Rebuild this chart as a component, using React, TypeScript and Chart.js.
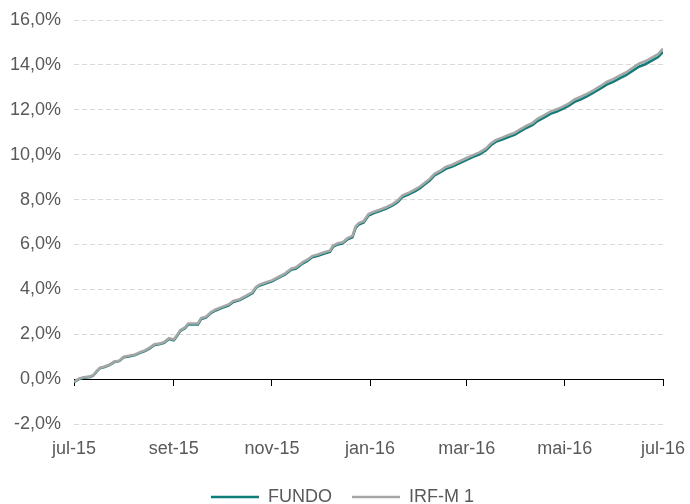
import { useEffect, useRef } from "react";
import { Chart, registerables } from "chart.js";

Chart.register(...registerables);

// Day offsets from 1 Jul 2015
const days = [0,3,6,10,12,14,16,19,22,25,28,31,34,38,41,44,47,50,53,56,59,62,64,66,69,71,74,77,79,82,85,88,92,96,99,103,107,111,113,115,119,123,127,131,135,138,142,145,148,152,156,159,161,164,167,170,173,175,177,180,183,186,190,194,198,201,204,208,212,215,218,221,224,228,231,235,240,244,248,252,256,259,262,266,270,274,277,281,285,288,292,296,300,304,307,311,315,319,323,327,331,335,339,343,347,351,355,359,363,366];

const irfm1 = [-0.12,0.02,0.08,0.12,0.18,0.35,0.50,0.56,0.64,0.78,0.82,1.00,1.04,1.10,1.20,1.28,1.40,1.55,1.58,1.65,1.82,1.76,1.95,2.18,2.30,2.48,2.48,2.48,2.72,2.78,2.98,3.10,3.22,3.32,3.48,3.56,3.72,3.88,4.10,4.20,4.30,4.40,4.55,4.70,4.92,4.98,5.20,5.32,5.48,5.56,5.66,5.72,5.95,6.05,6.10,6.28,6.38,6.80,6.95,7.04,7.35,7.45,7.55,7.66,7.80,7.95,8.18,8.30,8.45,8.58,8.75,8.92,9.15,9.30,9.45,9.55,9.72,9.85,9.98,10.10,10.28,10.50,10.65,10.76,10.88,10.98,11.12,11.28,11.42,11.60,11.75,11.92,12.02,12.15,12.26,12.46,12.58,12.72,12.88,13.05,13.24,13.36,13.52,13.66,13.86,14.05,14.16,14.32,14.48,14.72];

const fundo = [-0.14,0.00,0.06,0.10,0.16,0.33,0.48,0.54,0.62,0.76,0.80,0.97,1.01,1.07,1.17,1.25,1.37,1.52,1.55,1.62,1.79,1.73,1.92,2.15,2.27,2.44,2.44,2.44,2.68,2.74,2.94,3.06,3.18,3.28,3.44,3.52,3.68,3.84,4.06,4.16,4.26,4.36,4.51,4.65,4.87,4.93,5.15,5.27,5.43,5.51,5.61,5.67,5.90,6.00,6.05,6.23,6.32,6.74,6.89,6.98,7.29,7.39,7.49,7.60,7.74,7.88,8.11,8.23,8.38,8.51,8.68,8.85,9.08,9.23,9.37,9.47,9.64,9.77,9.90,10.02,10.20,10.42,10.57,10.67,10.79,10.89,11.03,11.19,11.33,11.50,11.65,11.82,11.92,12.05,12.16,12.35,12.47,12.61,12.77,12.94,13.12,13.24,13.40,13.54,13.73,13.92,14.03,14.19,14.35,14.58];

const tickDays = [0, 62, 123, 184, 244, 305, 366];
const tickLabels = ["jul-15", "set-15", "nov-15", "jan-16", "mar-16", "mai-16", "jul-16"];
const yTicks = [-2, 0, 2, 4, 6, 8, 10, 12, 14, 16];

const TEAL = "#0f7d7a";
const GRAY = "#a6a6a6";
const TEXT = "#595959";

export default function App() {
  const ref = useRef<HTMLCanvasElement>(null);

  useEffect(() => {
    document.body.style.margin = "0";
    Chart.defaults.font.family = "'Liberation Sans', Arial, sans-serif";
    const setX = (s: any) => {
      s.ticks = tickDays.map((v) => ({ value: v }));
    };
    const noPad = (s: any) => {
      s.paddingLeft = 0;
      s.paddingRight = 0;
      s.paddingTop = 0;
      s.paddingBottom = 0;
    };
    const legendShift = {
      id: "legendShift",
      afterLayout(c: any) {
        if (c.legend) {
          c.legend.left += 11;
          c.legend.right += 11;
        }
      },
    };
    const chart = new Chart(ref.current!, {
      type: "line",
      plugins: [legendShift],
      data: {
        datasets: [
          {
            label: "FUNDO",
            data: days.map((d, i) => ({ x: d, y: fundo[i] })),
            borderColor: TEAL,
            backgroundColor: TEAL,
            borderWidth: 2.6,
            pointRadius: 0,
            tension: 0,
            order: 1,
            xAxisID: "x",
            yAxisID: "y",
          },
          {
            label: "IRF-M 1",
            data: days.map((d, i) => ({ x: d, y: irfm1[i] })),
            borderColor: GRAY,
            backgroundColor: GRAY,
            borderWidth: 2.6,
            pointRadius: 0,
            tension: 0,
            order: 0,
            xAxisID: "x",
            yAxisID: "y",
          },
        ],
      },
      options: {
        animation: false,
        responsive: false,
        devicePixelRatio: 1,
        layout: { padding: { top: 20, right: 27, left: 0, bottom: -12 } },
        plugins: {
          tooltip: { enabled: false },
          legend: {
            position: "bottom",
            labels: {
              usePointStyle: true,
              pointStyle: "line",
              pointStyleWidth: 48,
              boxHeight: 18,
              color: TEXT,
              font: { size: 18 },
              padding: 20,
              sort: (a: any, b: any) => a.datasetIndex - b.datasetIndex,
            },
          },
        },
        scales: {
          x: {
            type: "linear",
            position: { y: 0 } as any,
            min: 0,
            max: 366,
            afterBuildTicks: setX,
            afterFit: noPad,
            ticks: { display: false },
            grid: { drawOnChartArea: false, drawTicks: true, tickLength: 6, color: "#000000" },
            border: { display: true, color: "#000000", width: 1 },
          },
          x2: {
            type: "linear",
            position: "bottom",
            min: 0,
            max: 366,
            afterBuildTicks: setX,
            afterFit: (s: any) => {
              noPad(s);
              s.height = 44;
            },
            ticks: {
              autoSkip: false,
              maxRotation: 0,
              color: TEXT,
              font: { size: 18 },
              padding: 14,
              callback: (v: any) => {
                const i = tickDays.indexOf(Number(v));
                return i >= 0 ? tickLabels[i] : "";
              },
            },
            grid: { display: false, drawTicks: false },
            border: { display: false },
          },
          y: {
            type: "linear",
            min: -2,
            max: 16,
            afterBuildTicks: (s: any) => {
              s.ticks = yTicks.map((v) => ({ value: v }));
            },
            afterFit: (s: any) => {
              noPad(s);
              s.width = 74;
            },
            ticks: {
              color: TEXT,
              font: { size: 18 },
              padding: 13,
              callback: (v: any) => Number(v).toFixed(1).replace(".", ",") + "%",
            },
            grid: { color: "#d9d9d9", lineWidth: 1, drawTicks: false },
            border: { display: false, dash: [5, 3] },
          },
        },
      },
    });
    return () => chart.destroy();
  }, []);

  return (
    <div style={{ position: "absolute", left: 0, top: 0, width: 690, height: 504 }}>
      <canvas ref={ref} width={690} height={504} />
    </div>
  );
}
